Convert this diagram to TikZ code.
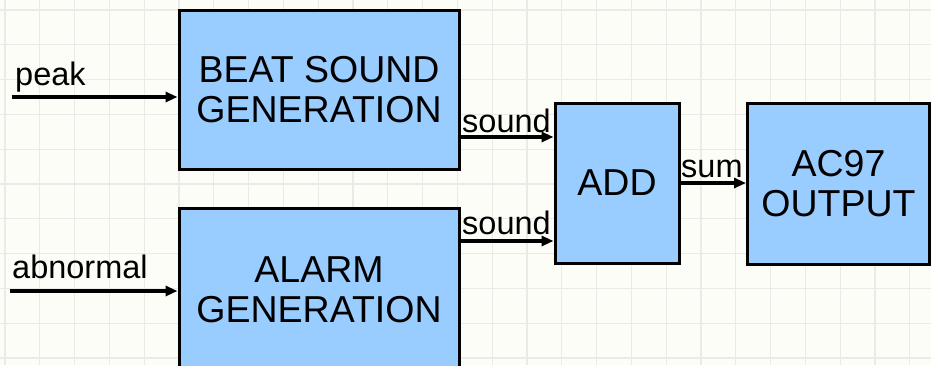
\documentclass[tikz,border=0pt]{standalone}
\usepackage{fontspec}
\setmainfont{Liberation Sans}
\usetikzlibrary{arrows.meta,calc}
\definecolor{bg}{HTML}{FDFDF8}
\definecolor{gridc}{HTML}{EAEAE6}
\definecolor{boxc}{HTML}{99CCFF}
\tikzset{
  blk/.style={draw=black, line width=3pt, fill=boxc, align=center, inner sep=0pt,
    font=\fontsize{37.5}{40}\selectfont},
  sig/.style={line width=3.2pt, -{Triangle[length=12pt,width=10pt]}},
  lbl/.style={anchor=base west, inner sep=0pt, font=\fontsize{32.5}{36}\selectfont}
}
\begin{document}
\begin{tikzpicture}[x=1pt,y=-1pt]
\useasboundingbox (0,0) rectangle (931,365);
\fill[bg] (0,0) rectangle (931,365);
\foreach \i in {0,...,26} {
  \draw[gridc, line width=1.2pt] ({5+\i*34.8},0) -- ({5+\i*34.8},365);
}
\foreach \j in {0,...,10} {
  \draw[gridc, line width=1.2pt] (0,{10+\j*34.8}) -- (931,{10+\j*34.8});
}
\begin{scope}
\clip (0,0) rectangle (931,365);
\node[blk, minimum width=280pt, minimum height=159pt] (beat) at (319,89.5) {BEAT SOUND\\GENERATION};
\node[blk, minimum width=280pt, minimum height=164pt] (alarm) at (319,290) {ALARM\\GENERATION};
\node[blk, minimum width=124pt, minimum height=160pt] (add) at (617,183) {ADD};
\node[blk, minimum width=182pt, minimum height=161pt] (ac) at (838.5,183.5) {AC97\\OUTPUT};
\end{scope}
\coordinate (pin) at (12,97);
\coordinate (ain) at (10,291);
\coordinate (s1) at (459,137);
\coordinate (s2) at (459,241);
\coordinate (sm) at (679,183);
\draw[sig] (pin) -- (pin -| beat.west);
\draw[sig] (ain) -- (ain -| alarm.west);
\draw[sig] (s1 -| beat.east) -- (s1 -| add.west);
\draw[sig] (s2 -| alarm.east) -- (s2 -| add.west);
\draw[sig] (sm -| add.east) -- (sm -| ac.west);
\node[lbl] (lpeak) at (15,85) {peak};
\node[lbl] (labn) at (12,278) {abnormal};
\node[lbl] (ls1) at (462,132) {sound};
\node[lbl] (ls2) at (462,234) {sound};
\node[lbl] (lsum) at (681,177) {sum};
\end{tikzpicture}
\end{document}
